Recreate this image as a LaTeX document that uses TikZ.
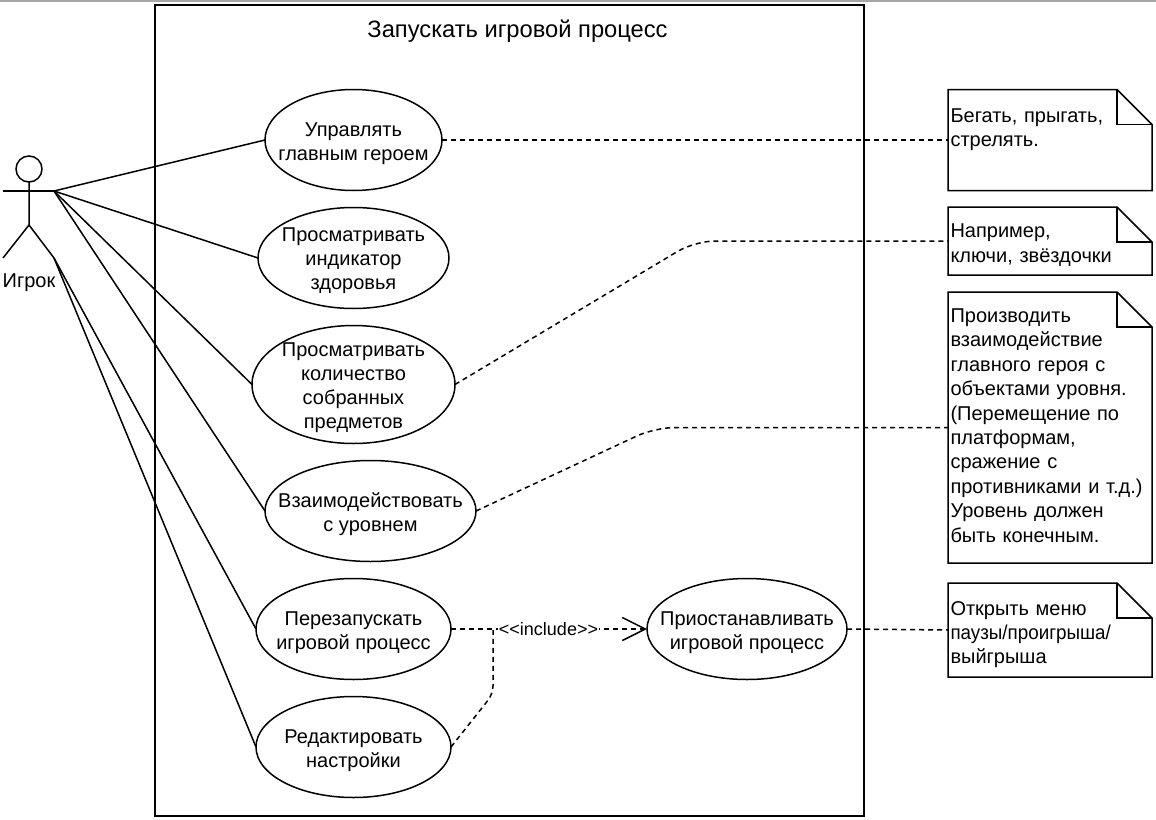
\documentclass[tikz,border=0pt]{standalone}
\usepackage{fontspec}
\setmainfont{Liberation Sans}
\usetikzlibrary{arrows.meta,positioning,shapes.geometric}
\newcommand{\topgap}[1]{\rule{0pt}{#1pt}}
\tikzset{
    %Define style for use cases
    usecase/.style={
           ellipse,
           draw=black,
           minimum height=101pt,
           inner sep=-40pt,
           outer sep=0pt,
           align=center,
           font=\fontsize{20}{24}\selectfont},
    %Define style for notes
    notebox/.style={
           rectangle,
           minimum width=204pt,
           text width=199pt,
           inner xsep=2.5pt,
           inner ysep=0pt,
           outer sep=0pt,
           align=left,
           font=\fontsize{20}{24.4}\selectfont},
    % Define connector styles
    assoc/.style={line width=1.5pt},
    dep/.style={line width=1.5pt, dash pattern=on 5pt off 4pt},
}

\begin{document}
\begin{tikzpicture}[x=1pt,y=-1pt,line width=1.5pt,node distance=17pt]
\useasboundingbox (0,0) rectangle (1156,819);

\draw[line width=2pt,black!35] (0,0.5) -- (1156,0.5);

% system frame
\node[rectangle,draw=black,minimum width=709pt,minimum height=811pt,outer sep=0pt] (frame) at (509.5,410.5) {};
\node[font=\fontsize{23.7}{24}\selectfont] (title) at (517.5,31) {Запускать игровой процесс};

% actor
\node[circle,draw=black,minimum size=26pt,inner sep=0pt,outer sep=0pt] (head) at (29,169) {};
\coordinate (handL) at (3,191);
\coordinate (handR) at (54,191);
\coordinate (hip) at (29,225);
\coordinate (footL) at (3,258);
\coordinate (footR) at (54,258);
\node[font=\fontsize{20}{24}\selectfont] (actor) at (29,283) {Игрок};
\draw (head) -- (hip) -- (footL);
\draw (hip) -- (footR);
\draw (handL) -- (handR);

% use cases
\node[usecase,minimum width=177pt] (control) at (353.5,140) {\topgap{21}Управлять\\главным героем};
\node[usecase,minimum width=191pt,below=of control] (health) {\topgap{19}Просматривать\\индикатор\\здоровья};
\node[usecase,minimum width=203pt,minimum height=118pt,below=of health] (items) {\topgap{20}Просматривать\\количество\\собранных\\предметов};
\node[usecase,minimum width=211pt,below=of items,xshift=17pt] (level) {\topgap{21}Взаимодействовать\\с уровнем};
\node[usecase,minimum width=195pt,below=of level,xshift=-17pt] (restart) {\topgap{21}Перезапускать\\игровой процесс};
\node[usecase,minimum width=195pt,below=of restart] (settings) {\topgap{21}Редактировать\\настройки};
\node[usecase,minimum width=200pt,right=196pt of restart] (pause) {\topgap{21}Приостанавливать\\игровой процесс};

% notes
\node[notebox,minimum height=101pt] (noteRun) at (1050,140) {Бегать, прыгать,\\стрелять.\\~};
\node[notebox,minimum height=68pt] (noteItems) at (1050,241) {\topgap{22}Например,\\ключи, звёздочки};
\node[notebox,minimum height=271pt] (noteLevel) at (1050,427.5) {Производить\\взаимодействие\\главного героя с\\объектами уровня.\\(Перемещение по\\платформам,\\сражение с\\противниками и т.д.)\\Уровень должен\\быть конечным.\rule[-4pt]{0pt}{0pt}};
\node[notebox,minimum height=94pt] (notePause) at (1050,630) {\topgap{23}Открыть меню\\\scalebox{.94}[1]{паузы/проигрыша/}\\выйгрыша};

\foreach \n in {noteRun,noteItems,noteLevel,notePause}{
  \draw (\n.north west) -- ([xshift=-35pt]\n.north east) -- ([yshift=-35pt]\n.north east) -- (\n.south east) -- (\n.south west) -- cycle;
  \draw ([xshift=-35pt]\n.north east) -- ([xshift=-35pt,yshift=-35pt]\n.north east) -- ([yshift=-35pt]\n.north east);
}

% associations
\path[assoc]
	(handR) edge (control.west)
	(handR) edge (health.west)
	(handR) edge (items.west)
	(handR) edge (level.west)
	(footR) edge (restart.west)
	(footR) edge (settings.west);

% dependencies
\coordinate (bendItems) at (695,241);
\coordinate (bendLevel) at (655,427.5);
\coordinate (bendSettings) at (493,694);
\coordinate (join) at (493,630);
\path[dep] (control.east) edge (noteRun.west);
\draw[dep,rounded corners=20pt] (items.east) -- (bendItems) -- (noteItems.west);
\draw[dep,rounded corners=20pt] (level.east) -- (bendLevel) -- (noteLevel.west);
\path[dep] (pause.east) edge (notePause.west);
\draw[dep,rounded corners=8pt] (settings.east) -- (bendSettings) -- (join);
\draw[dep,-{Straight Barb[length=23pt,width=23pt,line width=1.5pt]}] (restart.east) -- (pause.west);
\node[fill=white,inner xsep=1pt,inner ysep=2pt,font=\fontsize{18}{24}\selectfont] (include) at (548.5,629) {{<}{<}include{>}{>}};
\end{tikzpicture}
\end{document}
